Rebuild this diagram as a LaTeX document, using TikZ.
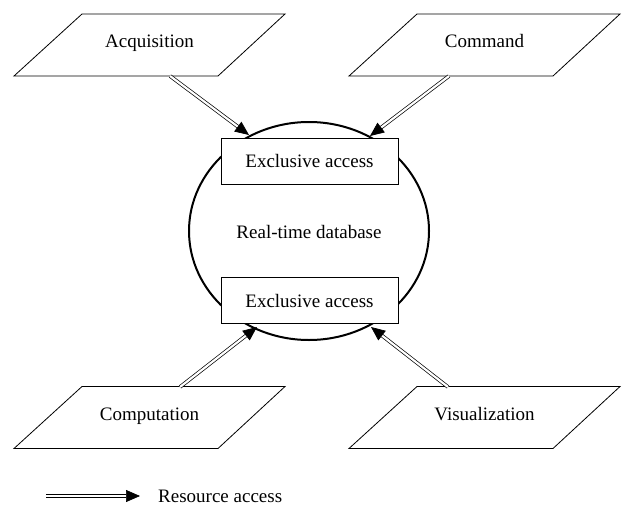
\documentclass[tikz,border=0pt]{standalone}
\usepackage{fontspec}
\setmainfont{Liberation Serif}
\usetikzlibrary{calc,shapes.geometric,arrows.meta}
\tikzset{
  task/.style={inner sep=0pt,text height=17pt,text depth=4pt},
  lock/.style={draw,line width=0.8pt,minimum width=177pt,minimum height=46pt,inner sep=0pt,text height=17pt,text depth=4pt},
  access/.style={double,double distance=2.2pt,line width=0.7pt,-{Triangle[length=14pt,width=12pt]}}
}
% slanted frame round a task node
\newcommand\taskframe[1]{\draw[line width=0.8pt] ($(#1)+(-135.5,35)$) -- ++(204,0) -- ++(67,-62) -- ++(-203,0) -- cycle;}
\begin{document}
\begin{tikzpicture}[x=1pt,y=-1pt,font=\fontsize{19}{22}\selectfont]
\useasboundingbox (0,0) rectangle (639,511);
\node[draw,ellipse,line width=2pt,minimum width=240pt,minimum height=218pt] (db) at (309,231) {};
\node[task] (dbtext) at (309,232) {Real-time database};
\node[lock,fill=white] (top) at (309.5,161) {Exclusive access};
\node[lock,fill=white] (bot) at (309.5,300.5) {Exclusive access};
\node[task] (acq) at (149.5,41) {Acquisition};
\node[task] (cmd) at (484.5,41) {Command};
\node[task] (cmp) at (149.5,413.5) {Computation};
\node[task] (vis) at (484.5,413.5) {Visualization};
\taskframe{acq}
\taskframe{cmd}
\taskframe{cmp}
\taskframe{vis}
\coordinate (acqout) at (170,76);
\coordinate (acqin) at (249,135);
\coordinate (cmdout) at (449,76);
\coordinate (cmdin) at (370,136);
\coordinate (cmpout) at (180,387);
\coordinate (cmpin) at (257,327);
\coordinate (visout) at (448,387);
\coordinate (visin) at (371,327);
\draw[access] (acqout) -- (acqin);
\draw[access] (cmdout) -- (cmdin);
\draw[access] (cmpout) -- (cmpin);
\draw[access] (visout) -- (visin);
% legend
\coordinate (legA) at (46,496);
\coordinate (legB) at (140,496);
\draw[access] (legA) -- (legB);
\node[anchor=west,inner sep=0pt] (legtext) at (158,496) {Resource access};
\end{tikzpicture}
\end{document}
